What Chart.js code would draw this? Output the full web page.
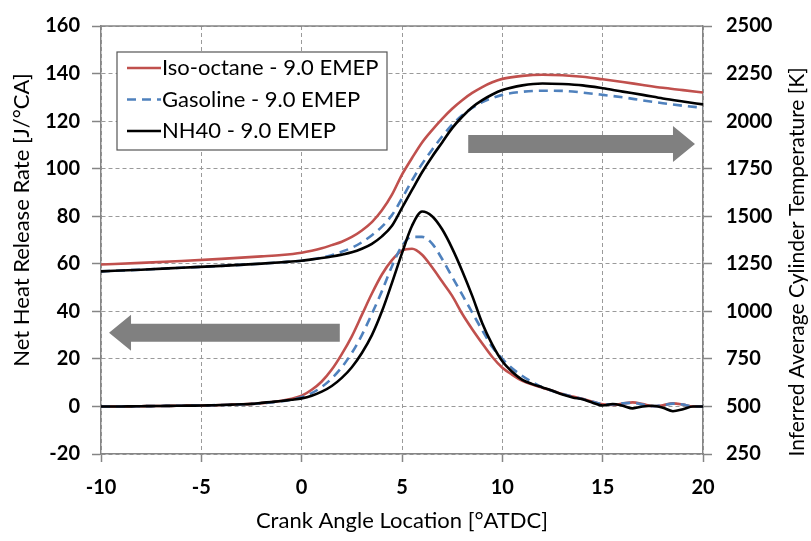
<!DOCTYPE html>
<html>
<head>
<meta charset="utf-8">
<script src="https://cdn.jsdelivr.net/npm/chart.js@4.4.1/dist/chart.umd.min.js"></script>
<style>
  html, body { margin: 0; padding: 0; background: #ffffff; }
  #wrap { width: 811px; height: 541px; }
</style>
</head>
<body>
<div id="wrap"><canvas id="chart" width="811" height="541"></canvas></div>
<script>
// Crank angle locations [°ATDC] for the heat release rate traces
const hrrAngle = [
  -10, -9.5, -9, -8.5, -8, -7.5, -7, -6.5, -6, -5.5,
  -5, -4.5, -4, -3.5, -3, -2.5, -2, -1.5, -1, -0.5,
  0, 0.5, 1, 1.5, 2, 2.5, 3, 3.5, 4, 4.5,
  5, 5.5, 6, 6.5, 7, 7.5, 8, 8.5, 9, 9.5,
  10, 10.5, 11, 11.5, 12, 12.5, 13, 13.5, 14, 14.5,
  15, 15.5, 16, 16.5, 17, 17.5, 18, 18.5, 19, 19.5, 20
];

// Net heat release rate [J/°CA]
const isoOctaneHRR = [
  0, 0, 0, 0.05, 0.1, 0.15, 0.2, 0.25, 0.3, 0.35,
  0.4, 0.5, 0.6, 0.75, 0.9, 1.1, 1.4, 1.8, 2.4, 3.2,
  4.5, 7, 10.5, 15.5, 22, 29.5, 38.5, 47.5, 55.5, 61.5,
  65.5, 66.3, 63.8, 58.5, 52.5, 46.5, 39, 32.5, 26.5, 20.8,
  16.3, 13.3, 10.8, 9.2, 7.9, 6.6, 5.2, 4.2, 3.2, 2,
  0.9, 0.6, 1.2, 1.7, 1.0, 0.1, 0.5, 1.3, 0.8, 0, 0.1
];
const gasolineHRR = [
  0, 0, 0, 0.05, 0.1, 0.15, 0.2, 0.25, 0.3, 0.35,
  0.4, 0.5, 0.6, 0.7, 0.85, 1.0, 1.3, 1.7, 2.2, 2.9,
  3.9, 5.6, 8.2, 11.8, 16.5, 22.5, 30, 39, 48.5, 59,
  67.5, 71.3, 71.3, 68.5, 62, 54.5, 47, 39.5, 32, 25,
  20, 16, 12.8, 10.2, 8, 6.5, 5.2, 4.1, 3.1, 2,
  1, 0.8, 1.3, 1.5, 0.8, 0.1, 0.5, 1.2, 0.8, 0, 0
];
const nh40HRR = [
  0, 0, 0, 0.05, 0.1, 0.15, 0.2, 0.25, 0.3, 0.35,
  0.4, 0.5, 0.6, 0.75, 0.9, 1.1, 1.5, 1.9, 2.3, 2.8,
  3.4, 4.5, 6.2, 8.6, 12, 16.5, 22.5, 30, 40, 52,
  64.5, 76, 82, 80, 74.5, 66.5, 57, 46.5, 35, 26,
  19, 14.5, 11.2, 9.4, 8, 6.6, 5, 3.8, 3, 1.6,
  0.4, 1.0, 0.3, -0.8, 0, 0.3, -0.5, -2, -1.2, 0, 0
];

// Crank angle locations [°ATDC] for the temperature traces
const tempAngle = [
  -10, -8, -6, -4, -2, -1, 0, 0.5, 1, 1.5,
  2, 2.5, 3, 3.5, 4, 4.5, 5, 5.5, 6, 6.5,
  7, 7.5, 8, 8.5, 9, 9.5, 10, 11, 12, 13,
  14, 15, 16, 17, 18, 19, 20
];

// Inferred average cylinder temperature [K]
const isoOctaneTemp = [
  1246, 1255, 1265, 1276, 1289, 1296, 1308, 1318, 1331, 1348,
  1366, 1391, 1425, 1469, 1531, 1613, 1719, 1806, 1888, 1953,
  2012, 2065, 2110, 2148, 2179, 2204, 2222, 2238, 2244, 2241,
  2233, 2220, 2206, 2190, 2175, 2163, 2150
];
const gasolineTemp = [
  1210, 1219, 1229, 1239, 1251, 1258, 1266, 1274, 1283, 1295,
  1313, 1334, 1363, 1400, 1445, 1506, 1594, 1688, 1775, 1850,
  1919, 1981, 2031, 2069, 2100, 2121, 2138, 2154, 2160, 2159,
  2150, 2138, 2125, 2109, 2094, 2081, 2070
];
const nh40Temp = [
  1210, 1219, 1229, 1239, 1251, 1258, 1266, 1273, 1280, 1288,
  1298, 1310, 1329, 1355, 1394, 1450, 1544, 1638, 1731, 1813,
  1888, 1963, 2023, 2073, 2110, 2140, 2163, 2188, 2198, 2195,
  2188, 2173, 2155, 2138, 2119, 2103, 2088
];

const fuelLabels = ['Iso-octane - 9.0 EMEP', 'Gasoline - 9.0 EMEP', 'NH40 - 9.0 EMEP'];

const FONT = 'Lato, "Open Sans", "Liberation Sans", sans-serif';
const RED = '#c0504d';
const BLUE = '#4f81bd';
const BLACK = '#000000';
const GRID = '#9a9a9a';
const AXIS = '#858585';
const ARROW = '#808080';

const toPoints = (xs, ys) => xs.map((x, i) => ({ x: x, y: ys[i] }));

function series(label, xs, ys, color, dash, axis, order) {
  return {
    label: label,
    data: toPoints(xs, ys),
    borderColor: color,
    backgroundColor: color,
    borderWidth: 2.6,
    borderDash: dash,
    pointRadius: 0,
    fill: false,
    cubicInterpolationMode: 'monotone',
    yAxisID: axis,
    order: order
  };
}

// Arrows pointing each group of curves to its axis (in data units)
const heatArrow = { tail: 1.9, tip: -9.6, level: 31 };      // left axis
const tempArrow = { tail: 8.3, tip: 19.6, level: 1880 };    // right axis

function drawArrow(ctx, xTail, xTip, yc) {
  const dir = Math.sign(xTip - xTail);
  const shaft = 9, head = 18, headLen = 22;
  const xBase = xTip - dir * headLen;
  ctx.beginPath();
  ctx.moveTo(xTail, yc - shaft);
  ctx.lineTo(xBase, yc - shaft);
  ctx.lineTo(xBase, yc - head);
  ctx.lineTo(xTip, yc);
  ctx.lineTo(xBase, yc + head);
  ctx.lineTo(xBase, yc + shaft);
  ctx.lineTo(xTail, yc + shaft);
  ctx.closePath();
  ctx.fill();
}

const decorations = {
  id: 'decorations',
  afterDatasetsDraw(chart) {
    const { ctx, chartArea: a, scales } = chart;
    ctx.save();
    // top frame line
    ctx.strokeStyle = AXIS;
    ctx.lineWidth = 1.5;
    ctx.beginPath();
    ctx.moveTo(a.left, a.top);
    ctx.lineTo(a.right, a.top);
    ctx.stroke();

    // arrows
    ctx.fillStyle = ARROW;
    drawArrow(ctx, scales.x.getPixelForValue(heatArrow.tail), scales.x.getPixelForValue(heatArrow.tip),
              scales.y.getPixelForValue(heatArrow.level));
    drawArrow(ctx, scales.x.getPixelForValue(tempArrow.tail), scales.x.getPixelForValue(tempArrow.tip),
              scales.y2.getPixelForValue(tempArrow.level));

    // legend box
    const lx = a.left + 16, ly = a.top + 26, lw = 270, lh = 98;
    ctx.fillStyle = '#ffffff';
    ctx.fillRect(lx, ly, lw, lh);
    ctx.strokeStyle = '#555555';
    ctx.lineWidth = 1.2;
    ctx.strokeRect(lx, ly, lw, lh);
    const styles = [
      { color: RED, dash: [] },
      { color: BLUE, dash: [9, 6] },
      { color: BLACK, dash: [] }
    ];
    ctx.font = '22px ' + FONT;
    ctx.textBaseline = 'middle';
    ctx.textAlign = 'left';
    fuelLabels.forEach((label, i) => {
      const yc = ly + 16 + i * 31.5;
      ctx.strokeStyle = styles[i].color;
      ctx.lineWidth = 2.6;
      ctx.setLineDash(styles[i].dash);
      ctx.beginPath();
      ctx.moveTo(lx + 10, yc);
      ctx.lineTo(lx + 44, yc);
      ctx.stroke();
      ctx.setLineDash([]);
      ctx.fillStyle = '#000000';
      ctx.fillText(label, lx + 45, yc);
    });

    // vertical axis titles
    ctx.font = '22px ' + FONT;
    ctx.fillStyle = '#000000';
    ctx.textAlign = 'center';
    ctx.textBaseline = 'middle';
    ctx.save();
    ctx.translate(22, 220);
    ctx.rotate(-Math.PI / 2);
    ctx.fillText('Net Heat Release Rate [J/°CA]', 0, 0);
    ctx.restore();
    ctx.save();
    ctx.translate(797, 262);
    ctx.rotate(-Math.PI / 2);
    ctx.font = '21px ' + FONT;
    ctx.fillText('Inferred Average Cylinder Temperature [K]', 0, 0);
    ctx.restore();
    ctx.restore();
  }
};

const tickFont = { family: FONT, size: 20, weight: 'bold' };
const plainNumber = v => String(v);

new Chart(document.getElementById('chart'), {
  type: 'line',
  data: {
    datasets: [
      series(fuelLabels[0], hrrAngle, isoOctaneHRR, RED, [], 'y', 5),
      series(fuelLabels[1], hrrAngle, gasolineHRR, BLUE, [9, 6], 'y', 4),
      series(fuelLabels[2], hrrAngle, nh40HRR, BLACK, [], 'y', 3),
      series(fuelLabels[0], tempAngle, isoOctaneTemp, RED, [], 'y2', 2),
      series(fuelLabels[1], tempAngle, gasolineTemp, BLUE, [9, 6], 'y2', 1),
      series(fuelLabels[2], tempAngle, nh40Temp, BLACK, [], 'y2', 0)
    ]
  },
  options: {
    responsive: false,
    animation: false,
    devicePixelRatio: 1,
    layout: { padding: { top: 14, right: 0, left: 0, bottom: 0 } },
    plugins: {
      legend: { display: false },
      tooltip: { enabled: false }
    },
    scales: {
      x: {
        type: 'linear',
        min: -10, max: 20,
        ticks: { stepSize: 5, font: tickFont, color: '#000', padding: 14, maxRotation: 0, callback: plainNumber },
        grid: { color: GRID, lineWidth: 1, tickLength: 8, tickColor: AXIS, tickWidth: 1.5 },
        border: { color: AXIS, width: 1.5, dash: [4, 3] },
        title: { display: true, text: 'Crank Angle Location [°ATDC]', font: { family: FONT, size: 22 }, color: '#000', padding: { bottom: 7 } },
        afterFit: s => { s.height = 87; }
      },
      y: {
        position: 'left',
        min: -20, max: 160,
        ticks: { stepSize: 20, font: tickFont, color: '#000', padding: 12, callback: plainNumber },
        grid: { color: GRID, lineWidth: 1, tickLength: 9, tickColor: AXIS, tickWidth: 1.5 },
        border: { color: AXIS, width: 1.5, dash: [4, 3] },
        afterFit: s => { s.width = 101; }
      },
      y2: {
        position: 'right',
        min: 250, max: 2500,
        ticks: { stepSize: 250, font: tickFont, color: '#000', padding: 14, callback: plainNumber },
        grid: { drawOnChartArea: false, tickLength: 9, tickColor: AXIS, tickWidth: 1.5 },
        border: { color: AXIS, width: 1.5 },
        afterFit: s => { s.width = 108; }
      }
    }
  },
  plugins: [decorations]
});
</script>
</body>
</html>
